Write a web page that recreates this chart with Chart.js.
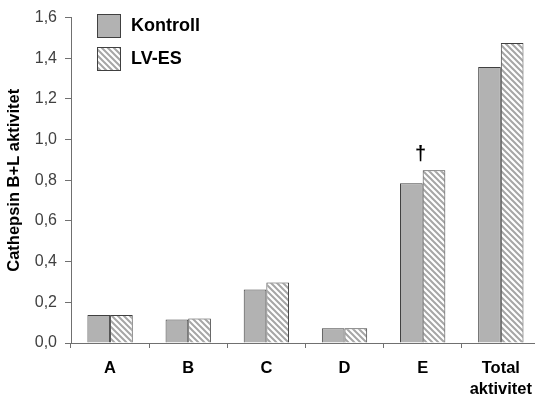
<!DOCTYPE html>
<html>
<head>
<meta charset="utf-8">
<script src="https://cdn.jsdelivr.net/npm/chart.js@4"></script>
<style>
  html, body { margin: 0; padding: 0; background: #ffffff; overflow: hidden; }
  #wrap { width: 535px; height: 399px; position: relative; overflow: hidden; }
  #c { position: absolute; left: 0; top: 0; }
</style>
</head>
<body>
<div id="wrap"><canvas id="c" width="541" height="399"></canvas></div>
<script>
const categories = [["A"], ["B"], ["C"], ["D"], ["E"], ["Total", "aktivitet"]];
const seriesNames = ["Kontroll", "LV-ES"];
const kontroll = [0.138, 0.115, 0.263, 0.073, 0.785, 1.357];
const lvEs = [0.138, 0.120, 0.298, 0.073, 0.850, 1.475];
const yTicks = [0, 0.2, 0.4, 0.6, 0.8, 1.0, 1.2, 1.4, 1.6];
const yTitle = "Cathepsin B+L aktivitet";
const markers = [{ index: 4, text: "†" }];

function makeHatch() {
  const s = 6;
  const c = document.createElement('canvas');
  c.width = s; c.height = s;
  const g = c.getContext('2d');
  g.fillStyle = '#ffffff';
  g.fillRect(0, 0, s, s);
  g.strokeStyle = '#a6a6a6';
  g.lineWidth = 2;
  g.beginPath();
  for (const k of [-s, 0, s]) {
    g.moveTo(k - 1, -1);
    g.lineTo(k + s + 1, s + 1);
  }
  g.stroke();
  return g.createPattern(c, 'repeat');
}

const ctx = document.getElementById('c').getContext('2d');
const hatch = makeHatch();
const FONT = "'Liberation Sans', Arial, sans-serif";

const legendPlugin = {
  id: 'insideLegend',
  afterDraw(chart) {
    const g = chart.ctx;
    g.save();
    chart.data.datasets.forEach((ds, i) => {
      const x = 97, y = 14 + i * 33, s = 24;
      g.fillStyle = ds.backgroundColor;
      g.fillRect(x, y, s, s);
      g.strokeStyle = '#404040';
      g.lineWidth = 1;
      g.strokeRect(x + 0.5, y + 0.5, s - 1, s - 1);
      g.fillStyle = '#000000';
      g.font = "bold 18px " + FONT;
      g.textBaseline = 'middle';
      g.textAlign = 'left';
      g.fillText(ds.label, x + s + 10, y + s / 2);
    });
    g.restore();
  }
};

const markerPlugin = {
  id: 'markers',
  afterDatasetsDraw(chart) {
    const g = chart.ctx;
    const xs = chart.scales.x;
    const meta = chart.getDatasetMeta(1);
    g.save();
    g.fillStyle = '#000000';
    g.font = "bold 20px " + FONT;
    g.textAlign = 'center';
    g.textBaseline = 'bottom';
    markers.forEach(m => {
      const el = meta.data[m.index];
      const x = xs.getPixelForValue(m.index) - 2;
      g.fillText(m.text, x, el.y - 6);
    });
    g.restore();
  }
};

new Chart(ctx, {
  type: 'bar',
  data: {
    labels: categories,
    datasets: [
      { label: seriesNames[0], data: kontroll, backgroundColor: '#b2b2b2', borderColor: '#404040', borderWidth: 1 },
      { label: seriesNames[1], data: lvEs, backgroundColor: hatch, borderColor: '#404040', borderWidth: 1 }
    ]
  },
  options: {
    responsive: false,
    animation: false,
    devicePixelRatio: 1,
    layout: { padding: { top: 5, right: 0, left: 0, bottom: 0 } },
    datasets: { bar: { categoryPercentage: 0.58, barPercentage: 1.0 } },
    plugins: { legend: { display: false }, tooltip: { enabled: false } },
    scales: {
      x: {
        offset: true,
        grid: { display: true, drawOnChartArea: false, offset: true, tickLength: 5, color: '#707070', lineWidth: 1 },
        border: { display: true, color: '#707070', width: 1 },
        ticks: { color: '#000000', padding: 9, maxRotation: 0, font: { family: FONT, size: 16.5, weight: 'bold', lineHeight: 1.33 } },
        afterFit(scale) { scale.height = 56; }
      },
      y: {
        min: 0, max: 1.6,
        afterBuildTicks(scale) { scale.ticks = yTicks.map(v => ({ value: v })); },
        grid: { display: true, drawOnChartArea: false, tickLength: 6, color: '#707070', lineWidth: 1 },
        border: { display: true, color: '#707070', width: 1 },
        ticks: {
          color: '#404040', padding: 8,
          font: { family: FONT, size: 16 },
          callback: v => v.toFixed(1).replace('.', ',')
        },
        title: { display: true, text: yTitle, color: '#000000', padding: { top: 5, bottom: 0 }, font: { family: FONT, size: 16.5, weight: 'bold' } },
        afterFit(scale) { scale.width = 71; }
      }
    }
  },
  plugins: [legendPlugin, markerPlugin]
});
</script>
</body>
</html>
